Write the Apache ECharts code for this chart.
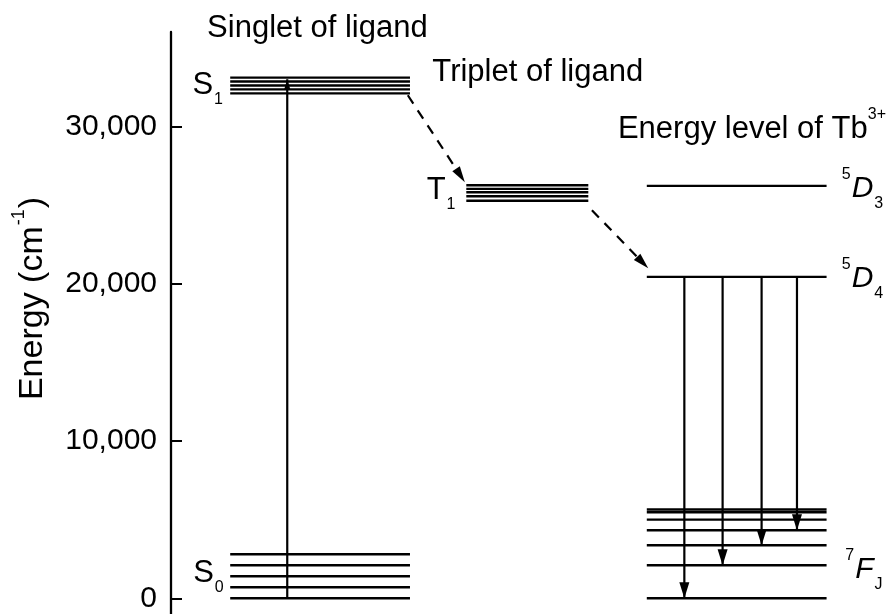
<!DOCTYPE html>
<html>
<head>
<meta charset="utf-8">
<script src="https://cdn.jsdelivr.net/npm/echarts@6/dist/echarts.min.js"></script>
<style>
  html, body { margin: 0; background: #fff; }
  #chart { width: 893px; height: 614px; }
</style>
</head>
<body>
<div id="chart"></div>
<script>
// energy levels (cm-1)
var s0Levels = [0, 700, 1400, 2100, 2800];
var s1Levels = [32100, 32350, 32600, 32850, 33100];
var t1Levels = [25270, 25560, 25810, 26030, 26260];
var d3Levels = [26220];
var d4Levels = [20430];
var fLevels = [0, 2100, 3370, 4320, 5000, 5470, 5640];

// column extents on the hidden x axis (0..100)
var colS = [8.2, 33.1];
var colT = [40.9, 57.8];
var colTb = [65.9, 90.8];

// absorption S0 -> S1
var absorbX = 16.1;
var absorbFrom = 0;
var absorbTo = 33000;

// emission 5D4 -> 7FJ
var emitX = [71.1, 76.4, 81.8, 86.7];
var emitTo = [0, 2100, 3370, 4320];

// energy transfer (dashed): x1, E1, x2, E2
var transfer = [
  [32.8, 31980, 40.7, 26450],
  [58.3, 24670, 66.1, 20980]
];

var yTicks = [0, 10000, 20000, 30000];

// text annotations
var labelText = [
  '{m|Singlet of ligand}',
  '{m|Triplet of ligand}',
  '{m|Energy level of Tb}{sup|3+}',
  '{m|S}{sub|1}',
  '{m|S}{sub|0}',
  '{m|T}{sub|1}',
  '{sup|5}{mi|D}{sub|3}',
  '{sup|5}{mi|D}{sub|4}',
  '{sup|7}{mi|F}{sub|J}'
];
var labelX = [5.0, 36.2, 61.9, 7.2, 7.3, 39.4, 92.9, 92.9, 93.4];
var labelE = [36200, 33400, 29800, 32620, 1590, 25940, 26065, 20340, 1840];
var labelAlign = ['left', 'left', 'left', 'right', 'right', 'right', 'left', 'left', 'left'];

var FONT = '"Liberation Sans", Arial, sans-serif';
var rich = {
  m: { fontSize: 31, fontFamily: FONT, color: '#000', padding: [16, 0, 16, 0], verticalAlign: 'top' },
  mi: { fontSize: 30, fontFamily: FONT, fontStyle: 'italic', color: '#000', padding: [16, 0, 16, 0], verticalAlign: 'top' },
  sup: { fontSize: 16, fontFamily: FONT, color: '#000', padding: [9, 1, 0, 0], verticalAlign: 'top' },
  sub: { fontSize: 16, fontFamily: FONT, color: '#000', padding: [38, 0, 0, 1], verticalAlign: 'top' }
};
var nameRich = {
  nm: { fontSize: 34, fontFamily: FONT, color: '#000', padding: [6, 0, 0, 0], verticalAlign: 'top' },
  nsup: { fontSize: 18, fontFamily: FONT, color: '#000', padding: [0, 1, 0, 1], verticalAlign: 'top' }
};

// build level segments [x1, x2, E]
var levels = [];
function addLevels(col, list) {
  list.forEach(function (e) { levels.push([col[0], col[1], e]); });
}
addLevels(colS, s0Levels);
addLevels(colS, s1Levels);
addLevels(colT, t1Levels);
addLevels(colTb, d3Levels);
addLevels(colTb, d4Levels);
addLevels(colTb, fLevels);

// arrows [x1, E1, x2, E2, headWidth, headLength, dashed]
var arrows = [];
arrows.push([absorbX, absorbFrom, absorbX, absorbTo, 6, 10, 0]);
emitX.forEach(function (x, i) {
  arrows.push([x, d4Levels[0], x, emitTo[i], 10, 16, 0]);
});
transfer.forEach(function (t) {
  arrows.push([t[0], t[1], t[2], t[3], 9, 16, 1]);
});

var labels = labelText.map(function (t, i) { return [labelX[i], labelE[i], i]; });

var chart = echarts.init(document.getElementById('chart'));

chart.setOption({
  animation: false,
  backgroundColor: '#fff',
  grid: { left: 171, right: 0, top: 32, bottom: 0 },
  xAxis: { type: 'value', min: 0, max: 100, show: false },
  yAxis: {
    type: 'value',
    min: -1000,
    max: 36000,
    name: '{nm|Energy (cm}{nsup|-1}{nm|)}',
    nameLocation: 'middle',
    nameGap: 121,
    nameTextStyle: { rich: nameRich, padding: [0, 0, 0, 49] },
    axisLine: { show: true, lineStyle: { color: '#000', width: 2.3 } },
    axisTick: { show: true, inside: true, length: 11, customValues: yTicks, lineStyle: { color: '#000', width: 2 } },
    axisLabel: {
      customValues: yTicks,
      margin: 14,
      fontSize: 30,
      fontFamily: FONT,
      color: '#000',
      formatter: function (v) { return v.toLocaleString('en-US'); }
    },
    splitLine: { show: false }
  },
  series: [
    {
      type: 'custom',
      name: 'levels',
      data: levels,
      encode: { x: [0, 1], y: 2 },
      renderItem: function (params, api) {
        var a = api.coord([api.value(0), api.value(2)]);
        var b = api.coord([api.value(1), api.value(2)]);
        return {
          type: 'line',
          shape: { x1: a[0], y1: a[1], x2: b[0], y2: b[1] },
          style: { stroke: '#000', lineWidth: 2.4 }
        };
      }
    },
    {
      type: 'custom',
      name: 'arrows',
      data: arrows,
      encode: { x: [0, 2], y: [1, 3] },
      renderItem: function (params, api) {
        var p1 = api.coord([api.value(0), api.value(1)]);
        var p2 = api.coord([api.value(2), api.value(3)]);
        var w = api.value(4), l = api.value(5), dashed = api.value(6);
        var dx = p2[0] - p1[0], dy = p2[1] - p1[1];
        var len = Math.sqrt(dx * dx + dy * dy);
        var ux = dx / len, uy = dy / len;
        var bx = p2[0] - ux * l, by = p2[1] - uy * l;
        var nx = -uy * w / 2, ny = ux * w / 2;
        var lineEnd = dashed ? [bx, by] : p2;
        return {
          type: 'group',
          children: [
            {
              type: 'line',
              shape: { x1: p1[0], y1: p1[1], x2: lineEnd[0], y2: lineEnd[1] },
              style: { stroke: '#000', lineWidth: 2.2, lineDash: dashed ? [10, 8] : null }
            },
            {
              type: 'polygon',
              shape: { points: [[p2[0], p2[1]], [bx + nx, by + ny], [bx - nx, by - ny]] },
              style: { fill: '#000' }
            }
          ]
        };
      }
    },
    {
      type: 'custom',
      name: 'labels',
      data: labels,
      encode: { x: 0, y: 1 },
      renderItem: function (params, api) {
        var i = api.value(2);
        var p = api.coord([api.value(0), api.value(1)]);
        return {
          type: 'text',
          x: p[0],
          y: p[1],
          style: {
            text: labelText[i],
            rich: rich,
            align: labelAlign[i],
            verticalAlign: 'middle',
            fontFamily: FONT,
            fontSize: 30,
            fill: '#000'
          }
        };
      }
    }
  ]
});
</script>
</body>
</html>
